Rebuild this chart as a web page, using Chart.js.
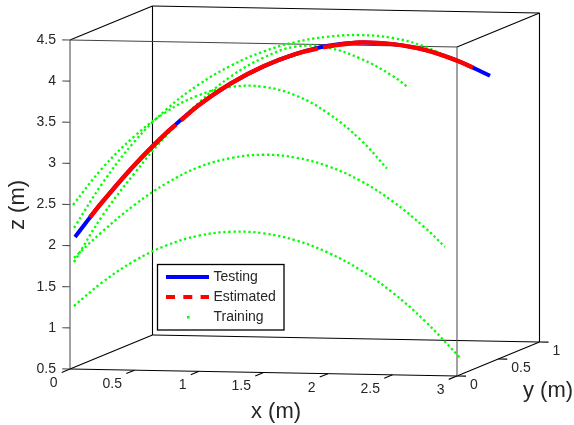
<!DOCTYPE html>
<html>
<head>
<meta charset="utf-8">
<title>Trajectories</title>
<script src="https://cdn.jsdelivr.net/npm/chart.js@4"></script>
<style>
  html, body { margin: 0; padding: 0; background: #fff; }
  canvas { display: block; }
</style>
</head>
<body>
<canvas id="chart" width="574" height="425"></canvas>
<script>
// axis ticks
const xTicks = [0, 0.5, 1, 1.5, 2, 2.5, 3];
const yTicks = [0, 0.5, 1];
const zTicks = [0.5, 1, 1.5, 2, 2.5, 3, 3.5, 4, 4.5];

const trainAX = [0.03, 0.25, 0.5, 0.75, 1, 1.25, 1.5, 1.75, 2, 2.25, 2.5, 2.75, 3.03];
const trainAZ = [1.265, 1.553, 1.815, 2.004, 2.121, 2.169, 2.149, 2.064, 1.915, 1.705, 1.43, 1.085, 0.626];

const trainBX = [0.03, 0.25, 0.5, 0.75, 1, 1.25, 1.5, 1.75, 2, 2.25, 2.5, 2.75, 2.907];
const trainBZ = [1.85, 2.17, 2.495, 2.76, 2.955, 3.065, 3.105, 3.07, 2.965, 2.79, 2.54, 2.22, 1.985];

const trainCX = [0.023, 0.25, 0.5, 0.75, 1, 1.25, 1.5, 1.75, 2, 2.25, 2.457];
const trainCZ = [2.495, 2.94, 3.33, 3.63, 3.83, 3.93, 3.93, 3.825, 3.61, 3.29, 2.938];

const trainDX = [0.031, 0.25, 0.5, 0.75, 1, 1.25, 1.5, 1.75, 2, 2.25, 2.5, 2.62];
const trainDZ = [1.8, 2.36, 2.88, 3.345, 3.74, 4.06, 4.285, 4.42, 4.405, 4.275, 4.065, 3.925];

const trainEX = [0.031, 0.25, 0.5, 0.75, 1, 1.25, 1.5, 1.75, 2, 2.25, 2.5, 2.75, 2.946];
const trainEZ = [2.215, 2.755, 3.265, 3.66, 3.96, 4.19, 4.36, 4.475, 4.54, 4.56, 4.525, 4.42, 4.27];

const testX = [0.039, 0.25, 0.5, 0.75, 1, 1.25, 1.5, 1.75, 2, 2.25, 2.5, 2.75, 3, 3.256];
const testZ = [2.105, 2.53, 2.98, 3.375, 3.71, 3.975, 4.18, 4.33, 4.43, 4.47, 4.45, 4.38, 4.25, 4.065];

// null = short break in the estimate, the testing line shows through
const estX = [0.155, 0.25, 0.5, 0.75, 0.822, 0.84, 0.86, 1, 1.25, 1.5, 1.75, 1.922, 1.94, 1.961, 2.25, 2.5, 2.75, 3, 3.124];
const estZ = [2.345, 2.53, 2.98, 3.375, 3.471, null, 3.522, 3.71, 3.975, 4.18, 4.33, 4.399, null, 4.412, 4.47, 4.45, 4.38, 4.25, 4.165];

const BLUE = '#0000ff', RED = '#ff0000', GREEN = '#00ff00', INK = '#262626', FONT = '"Liberation Sans", Arial, sans-serif';

// the box is a parallel projection: one metre of y moves right and up on the page
function project(x, y, z) {
    return { x: x + 0.6395 * y, y: z - 0.0283 * x + 0.4134 * y };
}

const zip = (xs, zs) => xs.map((x, i) => ({ x: x, y: zs[i] }));

function segment(a, b, color) {
    return { data: [project(...a), project(...b)], showLine: true, borderColor: color || '#000', borderWidth: 1.1, pointRadius: 0, order: 5 };
}

function boxEdges() {
    const out = [];
    [0, 1].forEach(y => {
        [0.5, 4.5].forEach(z => out.push(segment([0, y, z], [3, y, z], z === 4.5 && y === 0 ? '#444' : '#000')));
        [0, 3].forEach(x => out.push(segment([x, y, 0.5], [x, y, 4.5], y === 0 ? '#555' : '#000')));
    });
    [0, 3].forEach(x => {
        [0.5, 4.5].forEach(z => out.push(segment([x, 0, z], [x, 1, z])));
    });
    return out;
}

function tickMarks() {
    const out = [];
    xTicks.forEach(x => out.push(segment([x, 0, 0.5], [x, -0.1, 0.5])));
    yTicks.forEach(y => out.push(segment([3, y, 0.5], [3.07, y, 0.5])));
    zTicks.forEach(z => out.push(segment([0, 0, z], [-0.06, 0, z], '#555')));
    return out;
}

function training(xs, zs) {
    return { data: zip(xs, zs), showLine: true, tension: 0.4, borderColor: GREEN, borderWidth: 2.3, borderDash: [2.3, 2.7], pointRadius: 0, order: 3 };
}

// tick labels, axis titles and the legend box
const labelsPlugin = {
    id: 'labels3d',
    afterDraw(chart) {
        const ctx = chart.ctx, sx = chart.scales.x, sz = chart.scales.y;
        const px = p => ({ x: sx.getPixelForValue(p.x), y: sz.getPixelForValue(p.y) });
        ctx.save();
        ctx.fillStyle = INK;
        ctx.font = '14px ' + FONT;
        ctx.textBaseline = 'middle';

        ctx.textAlign = 'right';
        xTicks.forEach(x => { const p = px(project(x, 0, 0.5)); ctx.fillText(String(x), p.x - 12.5, p.y + 14); });
        zTicks.forEach(z => { const p = px(project(0, 0, z)); ctx.fillText(String(z), p.x - 14, p.y); });
        ctx.textAlign = 'left';
        yTicks.forEach(y => { const p = px(project(3, y, 0.5)); ctx.fillText(String(y), p.x + 13, p.y + 9); });

        ctx.font = '22px ' + FONT;
        ctx.textAlign = 'center';
        ctx.textBaseline = 'alphabetic';
        ctx.fillText('x (m)', 276, 418);
        ctx.fillText('y (m)', 548, 397);
        ctx.save();
        ctx.translate(24, 205);
        ctx.rotate(-Math.PI / 2);
        ctx.fillText('z (m)', 0, 0);
        ctx.restore();

        // legend
        ctx.fillStyle = '#fff';
        ctx.fillRect(157, 264, 127, 66);
        ctx.strokeStyle = '#000';
        ctx.lineWidth = 1.3;
        ctx.strokeRect(157.5, 264.5, 126.5, 65.5);
        ctx.lineWidth = 4;
        ctx.strokeStyle = BLUE;
        ctx.beginPath(); ctx.moveTo(166, 277); ctx.lineTo(209, 277); ctx.stroke();
        ctx.strokeStyle = RED;
        ctx.setLineDash([9, 8.3]);
        ctx.beginPath(); ctx.moveTo(166, 297); ctx.lineTo(209, 297); ctx.stroke();
        ctx.setLineDash([]);
        ctx.fillStyle = GREEN;
        ctx.fillRect(187, 316, 2.5, 2.5);
        ctx.fillStyle = INK;
        ctx.font = '14px ' + FONT;
        ctx.textAlign = 'left';
        ctx.textBaseline = 'middle';
        ctx.fillText('Testing', 213.5, 277);
        ctx.fillText('Estimated', 213.5, 297);
        ctx.fillText('Training', 213.5, 317);
        ctx.restore();
    }
};

new Chart(document.getElementById('chart'), {
    type: 'scatter',
    data: {
        datasets: [
            ...boxEdges(),
            ...tickMarks(),
            training(trainAX, trainAZ),
            training(trainBX, trainBZ),
            training(trainCX, trainCZ),
            training(trainDX, trainDZ),
            training(trainEX, trainEZ),
            { data: zip(testX, testZ), showLine: true, tension: 0.4, borderColor: BLUE, borderWidth: 4, pointRadius: 0, order: 2 },
            { data: zip(estX, estZ), showLine: true, tension: 0.4, spanGaps: false, borderColor: RED, borderWidth: 4.4, pointRadius: 0, order: 1 }
        ]
    },
    options: {
        responsive: false,
        animation: false,
        layout: { padding: 0 },
        plugins: { legend: { display: false }, tooltip: { enabled: false } },
        scales: {
            x: { type: 'linear', display: false, min: -0.54264, max: 3.90698 },
            y: { type: 'linear', display: false, min: -0.18085, max: 4.98632 }
        }
    },
    plugins: [labelsPlugin]
});
</script>
</body>
</html>
